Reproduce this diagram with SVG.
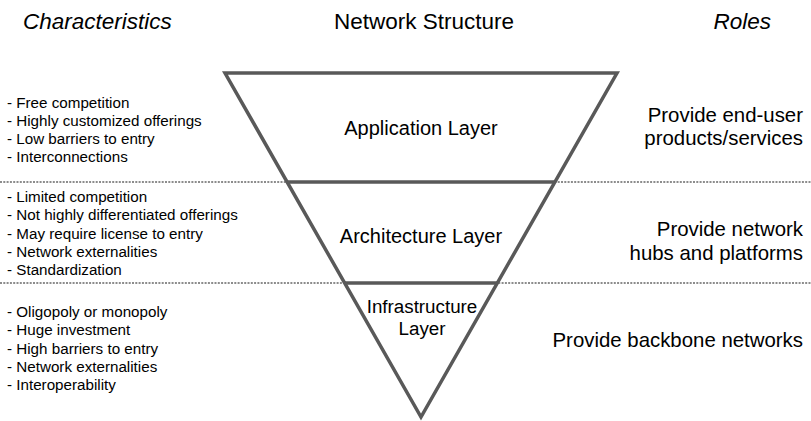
<svg xmlns="http://www.w3.org/2000/svg" width="811" height="421" viewBox="0 0 811 421">
  <style>
    .hdr { font-family: "Liberation Sans", Arial, sans-serif; font-size: 22.5px; fill: #000; }
    .it { font-style: italic; }
    .lst { font-family: "Liberation Sans", Arial, sans-serif; font-size: 15.2px; fill: #000; }
    .lay { font-family: "Liberation Sans", Arial, sans-serif; font-size: 20px; fill: #000; text-anchor: middle; }
    .lay-s { font-size: 18.8px; }
    .role { font-family: "Liberation Sans", Arial, sans-serif; font-size: 20.4px; fill: #000; text-anchor: end; }
    .sep { stroke: #8c8c8c; stroke-width: 2; stroke-dasharray: 2 1.3; fill: none; }
    .edge { stroke: #595959; stroke-width: 3.5; fill: none; stroke-linejoin: miter; }
  </style>
  <rect width="811" height="421" fill="#fff"/>
  <g id="headers">
    <text class="hdr it" x="23" y="29">Characteristics</text>
    <text class="hdr" x="424" y="29" text-anchor="middle">Network Structure</text>
    <text class="hdr it" x="771" y="29" text-anchor="end">Roles</text>
  </g>
  <g id="connectors">
    <line class="sep" x1="0" y1="182" x2="811" y2="182"/>
    <line class="sep" x1="0" y1="283" x2="811" y2="283"/>
  </g>
  <g id="pyramid">
    <polygon class="edge" points="225,73 617,73 421,417"/>
  </g>
  <g id="application-layer">
    <line class="edge" x1="287" y1="182" x2="555" y2="182"/>
    <text class="lay" x="421" y="135">Application Layer</text>
  </g>
  <g id="architecture-layer">
    <line class="edge" x1="344" y1="283" x2="498" y2="283"/>
    <text class="lay" x="421" y="243">Architecture Layer</text>
  </g>
  <g id="infrastructure-layer">
    <text class="lay lay-s" x="422" y="313">Infrastructure</text>
    <text class="lay lay-s" x="422" y="335">Layer</text>
  </g>
  <g id="char-application">
    <text class="lst" x="7" y="107.5">- Free competition</text>
    <text class="lst" x="7" y="125.8">- Highly customized offerings</text>
    <text class="lst" x="7" y="144.1">- Low barriers to entry</text>
    <text class="lst" x="7" y="162.4">- Interconnections</text>
  </g>
  <g id="char-architecture">
    <text class="lst" x="7" y="202">- Limited competition</text>
    <text class="lst" x="7" y="220.3">- Not highly differentiated offerings</text>
    <text class="lst" x="7" y="238.6">- May require license to entry</text>
    <text class="lst" x="7" y="256.9">- Network externalities</text>
    <text class="lst" x="7" y="275.2">- Standardization</text>
  </g>
  <g id="char-infrastructure">
    <text class="lst" x="7" y="317">- Oligopoly or monopoly</text>
    <text class="lst" x="7" y="335.3">- Huge investment</text>
    <text class="lst" x="7" y="353.6">- High barriers to entry</text>
    <text class="lst" x="7" y="371.9">- Network externalities</text>
    <text class="lst" x="7" y="390.2">- Interoperability</text>
  </g>
  <g id="role-application">
    <text class="role" x="803" y="122">Provide end-user</text>
    <text class="role" x="803" y="145">products/services</text>
  </g>
  <g id="role-architecture">
    <text class="role" x="803" y="236">Provide network</text>
    <text class="role" x="803" y="260">hubs and platforms</text>
  </g>
  <g id="role-infrastructure">
    <text class="role" x="803" y="347">Provide backbone networks</text>
  </g>
</svg>
